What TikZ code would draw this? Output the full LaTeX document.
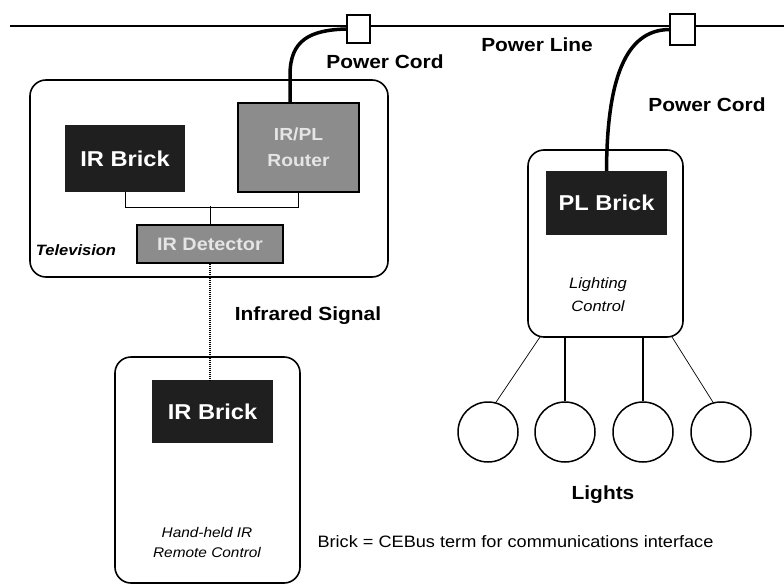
\documentclass[tikz,border=0pt]{standalone}
\usepackage{fontspec}
\setmainfont{Liberation Sans}[FakeStretch=1.1]
\usetikzlibrary{positioning}
\newcommand{\fsz}[2]{\fontsize{#1}{#2}\selectfont}

\begin{document}
\begin{tikzpicture}[
  x=1pt, y=-1pt,
  unit/.style={draw, line width=1.6pt, rounded corners=16pt, inner sep=0pt},
  brick/.style={fill=black!88, text=white, inner sep=0pt, font=\bfseries\fsz{21.5}{24}},
  greybox/.style={draw, line width=1.2pt, fill=black!45, text=white!90!black, inner sep=0pt, align=center, font=\bfseries\fsz{17.5}{26}},
  plug/.style={draw, line width=1.5pt, fill=white, inner sep=0pt},
  lamp/.style={draw, circle, line width=1.5pt, minimum size=60pt, inner sep=0pt},
  lbl/.style={font=\bfseries\fsz{19}{22}},
  cord/.style={line width=3.5pt},
  mains/.style={line width=2.5pt},
  wire/.style={line width=1pt},
  irsignal/.style={line width=2.5pt, dash pattern=on 1pt off 1pt},
]
\useasboundingbox (0,0) rectangle (784,586);
% --- power line and plugs ---
\coordinate (lineW) at (10,26);
\coordinate (lineE) at (784,26);
\draw[mains] (lineW) -- (lineE);
\node[plug, minimum width=23pt, minimum height=28pt] (plug1) at (358.5,29) {};
\node[plug, minimum width=25pt, minimum height=31pt] (plug2) at (682.5,29.5) {};
\node[lbl] (cordlbl1) at (385,62) {Power Cord};
\node[lbl] (linelbl) at (537,45) {Power Line};
\node[lbl] (cordlbl2) at (707,105) {Power Cord};
% --- television ---
\node[unit, minimum width=358pt, minimum height=197pt] (tv) at (209,178.5) {};
\node[brick, minimum width=120pt, minimum height=67pt] (irbrick) at (125,158.5) {IR Brick};
\node[greybox, minimum width=121pt, minimum height=89pt] (router) at (298.5,147.5) {IR/PL\\Router};
\node[greybox, minimum width=146pt, minimum height=38pt, font=\bfseries\fsz{18}{20}] (detector) at (210,244) {IR Detector};
\node[font=\bfseries\itshape\fsz{15}{18}] (tvlbl) at (76,250) {Television};
\draw[wire] (irbrick.south) -- ++(0,15) -| (router.south);
\draw[wire] (detector.north) -- ++(0,-18);
\coordinate (cordfoot) at (290,103);
\draw[cord] (cordfoot) -- (290,75) .. controls (290,40) and (310,30) .. (plug1.west);
% --- lighting control ---
\node[unit, minimum width=155pt, minimum height=187pt] (lighting) at (605.5,243.5) {};
\node[brick, minimum width=121pt, minimum height=64pt] (plbrick) at (606.5,203) {PL Brick};
\node[font=\itshape\fsz{15}{23}, align=center] (lightlbl) at (598,295) {Lighting\\Control};
\draw[cord] (plbrick.north) .. controls (607,80) and (625,30) .. (plug2.west);
% --- lights ---
\foreach \i/\x in {1/488, 2/565, 3/643, 4/721}
  \node[lamp] (lamp\i) at (\x,432) {};
\draw[wire, line width=0.7pt] (540,337) -- (lamp1.75);
\draw[wire, line width=1.3pt] (lamp2.north) -- (lamp2.north |- lighting.south);
\draw[wire, line width=1.3pt] (lamp3.north) -- (lamp3.north |- lighting.south);
\draw[wire, line width=0.7pt] (672,337) -- (lamp4.105);
\node[lbl] (lightslbl) at (603,495) {Lights};
% --- remote control ---
\node[unit, minimum width=185pt, minimum height=226pt] (remote) at (207.5,470) {};
\node[brick, minimum width=121pt, minimum height=63pt] (remotebrick) at (212.5,411.5) {IR Brick};
\node[font=\itshape\fsz{14}{20}, align=center] (remotelbl) at (207,542) {Hand-held IR\\Remote Control};
\draw[irsignal] (detector.south) -- (detector.south |- remotebrick.north);
\node[lbl] (irlbl) at (308,316) {Infrared Signal};
% --- note ---
\node[font=\fsz{16.5}{19}] (note) at (515.5,542) {Brick = CEBus term for communications interface};
\end{tikzpicture}
\end{document}
